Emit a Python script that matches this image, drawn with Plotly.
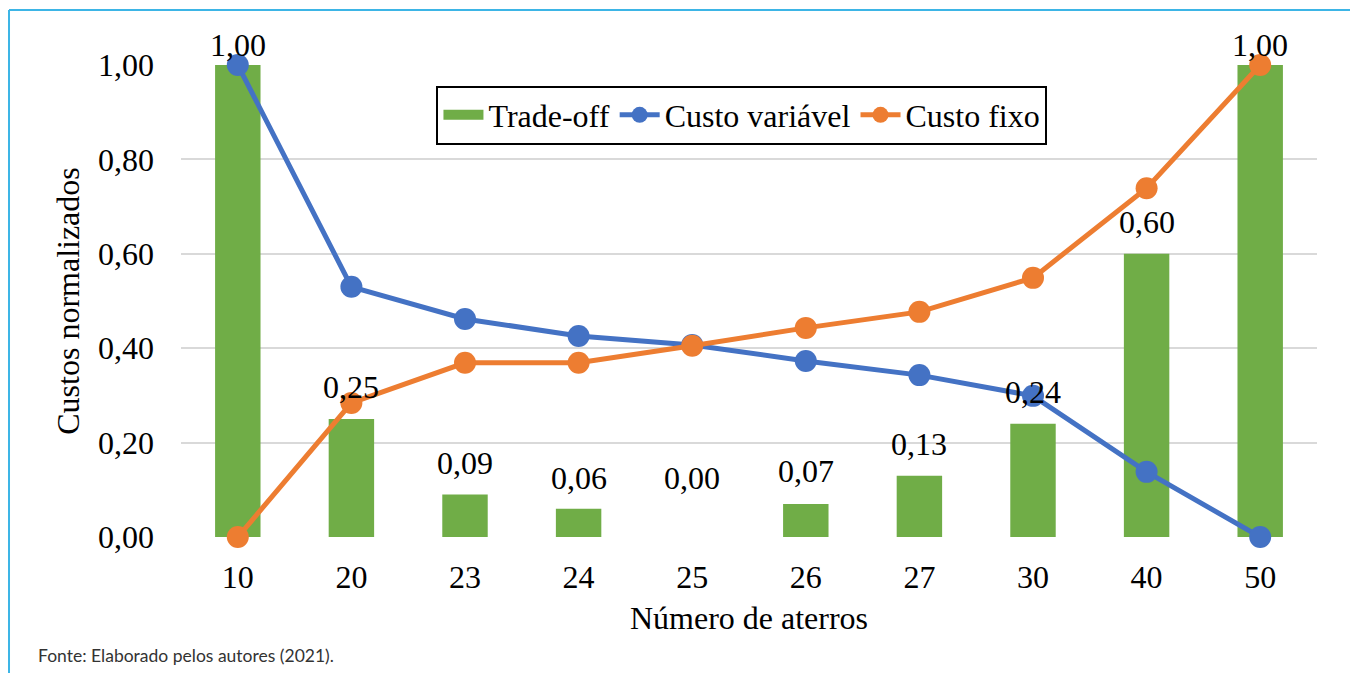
import plotly.graph_objects as go

categories = ["10", "20", "23", "24", "25", "26", "27", "30", "40", "50"]
trade_off = [1.00, 0.25, 0.09, 0.06, 0.00, 0.07, 0.13, 0.24, 0.60, 1.00]
custo_variavel = [1.00, 0.530, 0.462, 0.426, 0.407, 0.373, 0.343, 0.299, 0.138, 0.00]
custo_fixo = [0.00, 0.284, 0.369, 0.369, 0.405, 0.443, 0.477, 0.549, 0.739, 1.00]
y_ticks = [0, 0.2, 0.4, 0.6, 0.8, 1.0]
label_shift = [20, 32, 32, 31, 59, 33, 32, 32, 32, 20]

GREEN = "#70AD47"
BLUE = "#4472C4"
ORANGE = "#ED7D31"
SERIF = "Liberation Serif"
FS = 32

def fmt(v):
    return f"{v:.2f}".replace(".", ",")

fig = go.Figure()
fig.add_trace(go.Bar(x=categories, y=trade_off, name="Trade-off", showlegend=False,
                     marker=dict(color=GREEN, line=dict(width=0)), width=0.4))
# legend swatch for the bars (wide rectangle like the original)
fig.add_trace(go.Scatter(x=[None], y=[None], name="Trade-off", mode="lines",
                         line=dict(color=GREEN, width=16), legendrank=1))
fig.add_trace(go.Scatter(x=categories, y=custo_variavel, name="Custo variável",
                         mode="lines+markers", line=dict(color=BLUE, width=5),
                         marker=dict(color=BLUE, size=22), cliponaxis=False, legendrank=2))
fig.add_trace(go.Scatter(x=categories, y=custo_fixo, name="Custo fixo",
                         mode="lines+markers", line=dict(color=ORANGE, width=5),
                         marker=dict(color=ORANGE, size=22), cliponaxis=False, legendrank=3))

for i, (v, s) in enumerate(zip(trade_off, label_shift)):
    fig.add_annotation(x=i, y=v, xref="x", yref="y", text=fmt(v), showarrow=False, yshift=s,
                       font=dict(family=SERIF, size=FS, color="black"))

# outer frame (top and left lines)
fig.add_shape(type="line", xref="paper", yref="paper", x0=-0.1514, x1=1.05,
              y0=1.1165, y1=1.1165, line=dict(color="#3DB5E6", width=2))
fig.add_shape(type="line", xref="paper", yref="paper", x0=-0.1514, x1=-0.1514,
              y0=1.1165, y1=-0.30, line=dict(color="#3DB5E6", width=2))

fig.add_annotation(xref="paper", yref="paper", x=-0.1276, y=-0.25,
                   xanchor="left", yanchor="middle", showarrow=False,
                   text="Fonte: Elaborado pelos autores (2021).",
                   font=dict(family="Lato", size=17.5, color="#333333"))

# page has an 8px body margin; figure is sized/offset to compensate
fig.update_layout(
    width=1350, height=665,
    margin=dict(l=173, r=41, t=57, b=136, autoexpand=False),
    paper_bgcolor="white", plot_bgcolor="white",
    font=dict(family=SERIF, size=FS, color="black"),
    showlegend=True,
    legend=dict(orientation="h", x=0.4938, y=0.894, xanchor="center", yanchor="middle",
                bordercolor="black", borderwidth=2, bgcolor="white",
                font=dict(family=SERIF, size=FS, color="black"),
                traceorder="normal", itemwidth=40),
)
fig.update_xaxes(type="category", range=[-0.5, 9.5], showgrid=False, showline=False,
                 zeroline=False, automargin=False,
                 tickfont=dict(family=SERIF, size=FS), ticklabelstandoff=18,
                 title=dict(text="Número de aterros", font=dict(family=SERIF, size=FS), standoff=12))
fig.update_yaxes(range=[0, 1], tickvals=y_ticks, ticktext=[fmt(v) for v in y_ticks],
                 showgrid=True, gridcolor="#D9D9D9", gridwidth=2, zeroline=False,
                 showline=False, automargin=False,
                 tickfont=dict(family=SERIF, size=FS), ticklabelstandoff=26,
                 title=dict(text="Custos normalizados", font=dict(family=SERIF, size=FS), standoff=8))

fig.write_html("out.html")
